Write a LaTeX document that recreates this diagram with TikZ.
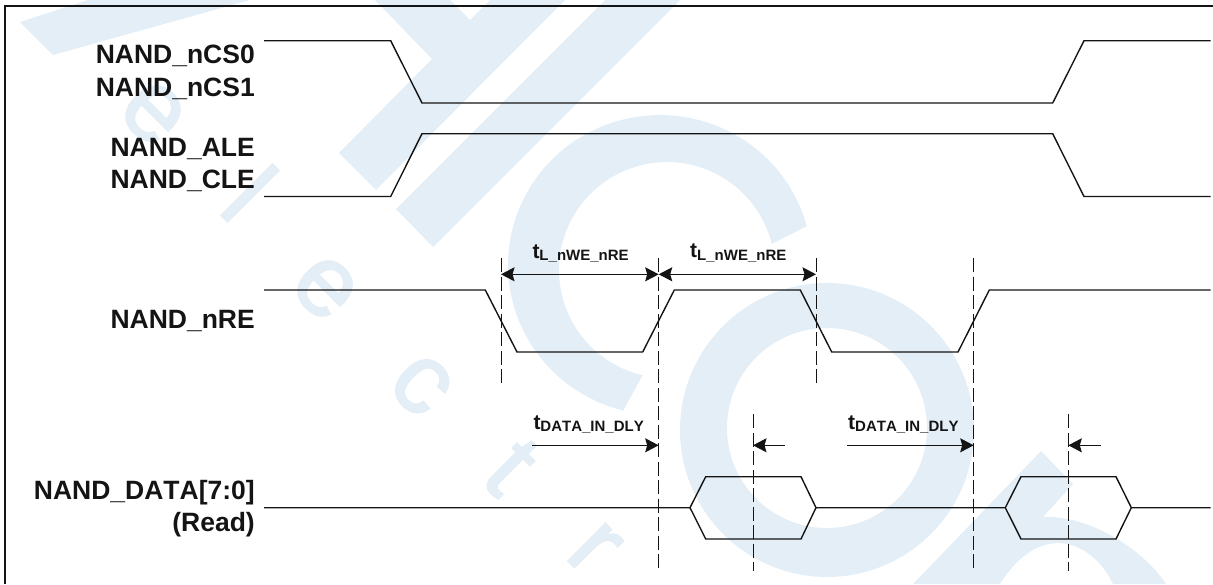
\documentclass[tikz,border=0pt]{standalone}
\usepackage{fontspec}
\setmainfont[Kerning=Off]{Liberation Sans}
\newfontfamily\wmfont[FakeBold=2]{Liberation Sans}
\usetikzlibrary{arrows.meta}
\definecolor{wm}{RGB}{227,238,247}
\definecolor{ink}{RGB}{20,20,20}
\tikzset{
  wave/.style={draw=ink,line width=1.4pt,line join=miter},
  guide/.style={draw=ink,line width=1pt,dash pattern=on 14pt off 4.5pt},
  span/.style={draw=ink,line width=1.2pt,{Stealth[length=13.5pt,width=14pt,inset=2pt]}-{Stealth[length=13.5pt,width=14pt,inset=2pt]}},
  oneway/.style={draw=ink,line width=1.2pt,-{Stealth[length=13.5pt,width=14pt,inset=2pt]}},
  signame/.style={anchor=base east,inner sep=0pt,text=ink,font=\bfseries\fontsize{26.5}{26.5}\selectfont},
  tlabel/.style={anchor=base west,inner sep=0pt,text=ink,font=\bfseries},
  wmletter/.style={inner sep=0pt,text=wm,rotate=-45,font=\wmfont\fontsize{100}{100}\selectfont},
}
\newcommand{\tl}[2]{{\fontsize{21}{21}\selectfont #1}\raisebox{-2.6pt}{\fontsize{15}{15}\selectfont #2}}
\begin{document}
\begin{tikzpicture}[x=1pt,y=-1pt]
\useasboundingbox (0,0) rectangle (1213,584);
\begin{scope}
\clip (0,0) rectangle (1213,584);
% watermark
\fill[wm] (20,22) -- (53,55) -- (250,0) -- (88,0) -- cycle;
\fill[wm] (375,0) -- (432,59) -- (339,153) -- (376,190) -- (565,0) -- (490,0) -- (470,20) -- (450,0) -- cycle;
\fill[wm] (396,209) -- (433,247) -- (680,0) -- (605,0) -- cycle;
\fill[wm] plot[domain=-15:-256,samples=90] ({660+152*cos(\x)},{265+150*sin(\x)}) -- plot[domain=-257:-14,samples=90] ({667+108*cos(\x)},{270+108*sin(\x)}) -- cycle;
\fill[wm,even odd rule] (827,430) circle[radius=147pt] (827,428) circle[radius=100pt];
\fill[wm] (1041,451) -- (1073,484) -- (1043,517) .. controls (1085,515) and (1140,545) .. (1166,584) -- (1113,584) .. controls (1092,540) and (1040,520) .. (1000,584) -- (913,584) -- cycle;
\node[wmletter] (we1) at (153,113) {e};
\node[wmletter] (wl) at (250,193) {l};
\node[wmletter] (we2) at (325,288) {e};
\node[wmletter] (wc) at (421,385) {c};
\node[wmletter] (wt) at (511,467) {t};
\node[wmletter] (wr) at (594,549) {r};
\end{scope}
% frame
\draw[ink,line width=2pt] (5,584) -- (5,6) -- (1213,6);
% waves
\draw[wave] (264,40.7) -- (390.7,40.7) -- (422,103) -- (1052.7,103) -- (1084,40.7) -- (1210.7,40.7);
\draw[wave] (264,196.5) -- (390.7,196.5) -- (422,133.7) -- (1052.7,133.7) -- (1084,196.5) -- (1210.7,196.5);
\draw[wave] (264,290) -- (485.3,290) -- (517,352) -- (642.7,352) -- (674.3,290) -- (800.3,290) -- (831.7,352) -- (958,352) -- (989.3,290) -- (1210.7,290);
\draw[wave] (264,507.7) -- (690,507.7) -- (705.7,476.7) -- (801,476.7) -- (816,507.7) -- (1005.3,507.7) -- (1021,476.7) -- (1116,476.7) -- (1131.3,507.7) -- (1210.7,507.7);
\draw[wave] (690,507.7) -- (705.7,539) -- (801,539) -- (816,507.7);
\draw[wave] (1005.3,507.7) -- (1021,539) -- (1116,539) -- (1131.3,507.7);
% guides
\coordinate (g1t) at (501,258); \coordinate (g1b) at (501,383);
\coordinate (g2t) at (658.7,258); \coordinate (g2b) at (658.7,571);
\coordinate (g3t) at (816,258); \coordinate (g3b) at (816,383);
\coordinate (g4t) at (973.7,258); \coordinate (g4b) at (973.7,571);
\coordinate (g5t) at (753,414); \coordinate (g5b) at (753,571);
\coordinate (g6t) at (1068.3,414); \coordinate (g6b) at (1068.3,571);
\foreach \g in {1,...,6} \draw[guide] (g\g t) -- (g\g b);
% arrows
\coordinate (a1) at (501,274.3); \coordinate (a2) at (658.7,274.3); \coordinate (a3) at (816,274.3);
\draw[span] (a1) -- (a2);
\draw[span] (a2) -- (a3);
\coordinate (b1) at (532,445.3); \coordinate (b2) at (658.7,445.3); \coordinate (b3) at (785,445.3); \coordinate (b4) at (753,445.3);
\coordinate (c1) at (847.3,445.3); \coordinate (c2) at (973.7,445.3); \coordinate (c3) at (1100.7,445.3); \coordinate (c4) at (1068.3,445.3);
\draw[oneway] (b1) -- (b2);
\draw[oneway] (b3) -- (b4);
\draw[oneway] (c1) -- (c2);
\draw[oneway] (c3) -- (c4);
% labels
\node[signame] (n1) at (255,63.3) {NAND\_nCS0};
\node[signame] (n2) at (255,96) {NAND\_nCS1};
\node[signame] (n3) at (255,156.7) {NAND\_ALE};
\node[signame] (n4) at (255,188.7) {NAND\_CLE};
\node[signame] (n5) at (255,328) {NAND\_nRE};
\node[signame] (n6) at (255,499.3) {NAND\_DATA[7:0]};
\node[signame] (n7) at (255,531.7) {(Read)};
\node[tlabel] (t1) at (532.3,258.3) {\tl{t}{L\_nWE\_nRE}};
\node[tlabel] (t2) at (690,257.5) {\tl{t}{L\_nWE\_nRE}};
\node[tlabel] (t3) at (533.3,429.3) {\tl{t}{DATA\_IN\_DLY}};
\node[tlabel] (t4) at (848,429.3) {\tl{t}{DATA\_IN\_DLY}};
\end{tikzpicture}
\end{document}
